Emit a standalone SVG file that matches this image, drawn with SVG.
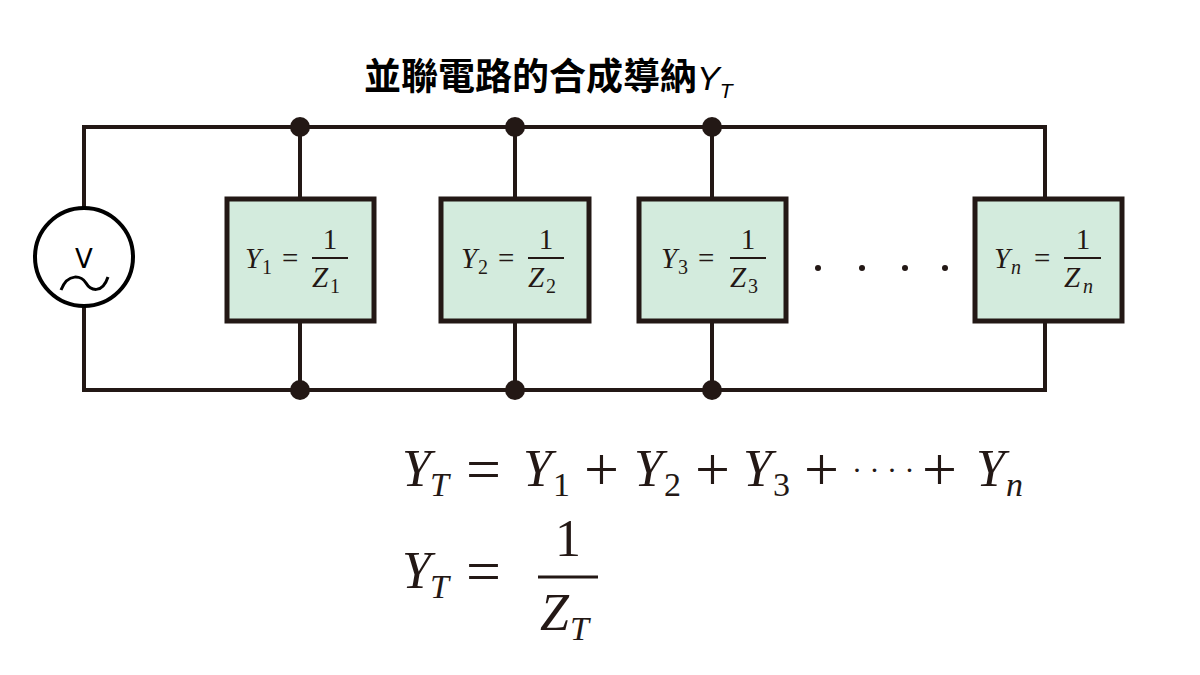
<svg xmlns="http://www.w3.org/2000/svg" width="1200" height="675" viewBox="0 0 1200 675">
<style>
.w{stroke:#231815;stroke-width:4;fill:none}
.box{fill:#d3ebdd;stroke:#231815;stroke-width:5}
.dot{fill:#231815}
.m{font-family:"Liberation Serif",serif;fill:#231815}
.i{font-style:italic}
.op{font-size:62px}
.t{font-family:"Noto Sans CJK TC","Noto Sans",sans-serif;font-weight:600;font-size:37px;fill:#000}
.fb{stroke:#231815;stroke-width:2}
</style>
<rect width="1200" height="675" fill="#fff"/>
<text class="t" x="364" y="90">並聯電路的合成導納<tspan font-family="Liberation Sans,sans-serif" font-style="italic" font-weight="normal" font-size="34">Y</tspan><tspan font-family="Liberation Sans,sans-serif" font-style="italic" font-weight="normal" font-size="21" dy="8">T</tspan></text>
<g id="wires">
<path class="w" d="M84 207V127H1045V197M84 307V390H1045V322"/>
<path class="w" d="M300 127V197M300 322V390M515 127V197M515 322V390M712 127V197M712 322V390"/>
<circle class="dot" cx="300" cy="127" r="10"/><circle class="dot" cx="515" cy="127" r="10"/><circle class="dot" cx="712" cy="127" r="10"/>
<circle class="dot" cx="300" cy="390" r="10"/><circle class="dot" cx="515" cy="390" r="10"/><circle class="dot" cx="712" cy="390" r="10"/>
</g>
<g id="source">
<circle cx="84" cy="257" r="49" fill="#fff" stroke="#000" stroke-width="4"/>
<text x="84" y="268" font-family="DejaVu Sans,sans-serif" font-size="26" text-anchor="middle">V</text>
<path d="M61 290C68 272 82 276 86 283S102 295 108 277" fill="none" stroke="#000" stroke-width="3"/>
</g>
<g id="Y1"><rect class="box" x="227" y="199" width="147" height="122"/>
<text class="m i" font-size="29" x="245" y="268">Y</text><text class="m" font-size="20" x="262" y="274">1</text><text class="m" font-size="29" x="282" y="268">=</text>
<text class="m" font-size="29" x="330" y="249" text-anchor="middle">1</text><line class="fb" x1="312" y1="258" x2="348" y2="258"/>
<text class="m i" font-size="29" x="312" y="287">Z</text><text class="m" font-size="20" x="330" y="293">1</text></g>
<g id="Y2"><rect class="box" x="441" y="199" width="148" height="122"/>
<text class="m i" font-size="29" x="461" y="268">Y</text><text class="m" font-size="20" x="478" y="274">2</text><text class="m" font-size="29" x="498" y="268">=</text>
<text class="m" font-size="29" x="546" y="249" text-anchor="middle">1</text><line class="fb" x1="528" y1="258" x2="564" y2="258"/>
<text class="m i" font-size="29" x="528" y="287">Z</text><text class="m" font-size="20" x="546" y="293">2</text></g>
<g id="Y3"><rect class="box" x="639" y="199" width="147" height="122"/>
<text class="m i" font-size="29" x="661" y="268">Y</text><text class="m" font-size="20" x="678" y="274">3</text><text class="m" font-size="29" x="698" y="268">=</text>
<text class="m" font-size="29" x="748" y="249" text-anchor="middle">1</text><line class="fb" x1="730" y1="258" x2="766" y2="258"/>
<text class="m i" font-size="29" x="730" y="287">Z</text><text class="m" font-size="20" x="748" y="293">3</text></g>
<g id="Yn"><rect class="box" x="975" y="199" width="147" height="122"/>
<text class="m i" font-size="29" x="994" y="268">Y</text><text class="m i" font-size="20" x="1011" y="274">n</text><text class="m" font-size="29" x="1034" y="268">=</text>
<text class="m" font-size="29" x="1083" y="249" text-anchor="middle">1</text><line class="fb" x1="1064" y1="258" x2="1101" y2="258"/>
<text class="m i" font-size="29" x="1064" y="287">Z</text><text class="m i" font-size="20" x="1083" y="293">n</text></g>
<g id="ellipsis" class="dot"><circle cx="818" cy="268" r="3"/><circle cx="862" cy="268" r="3"/><circle cx="905" cy="268" r="3"/><circle cx="945" cy="268" r="3"/></g>
<g id="eq" class="m" font-size="52">
<text class="i" x="402" y="486">Y</text><text class="i" font-size="34" x="430" y="496">T</text>
<text class="op" x="466" y="490">=</text>
<text class="i" x="523" y="486">Y</text><text font-size="34" x="553" y="496">1</text>
<text class="op" x="584" y="490">+</text>
<text class="i" x="634" y="486">Y</text><text font-size="34" x="664" y="496">2</text>
<text class="op" x="695" y="490">+</text>
<text class="i" x="743" y="486">Y</text><text font-size="34" x="773" y="496">3</text>
<text class="op" x="804" y="490">+</text>
<text font-size="30" x="852" y="480">· · · ·</text>
<text class="op" x="922" y="490">+</text>
<text class="i" x="976" y="486">Y</text><text class="i" font-size="34" x="1006" y="496">n</text>
<text class="i" x="402" y="588">Y</text><text class="i" font-size="34" x="430" y="598">T</text>
<text class="op" x="466" y="592">=</text>
<text x="568" y="556" text-anchor="middle">1</text>
<line x1="538" y1="577" x2="598" y2="577" stroke="#231815" stroke-width="3"/>
<text class="i" x="540" y="630">Z</text><text class="i" font-size="34" x="570" y="640">T</text>
</g>
</svg>
